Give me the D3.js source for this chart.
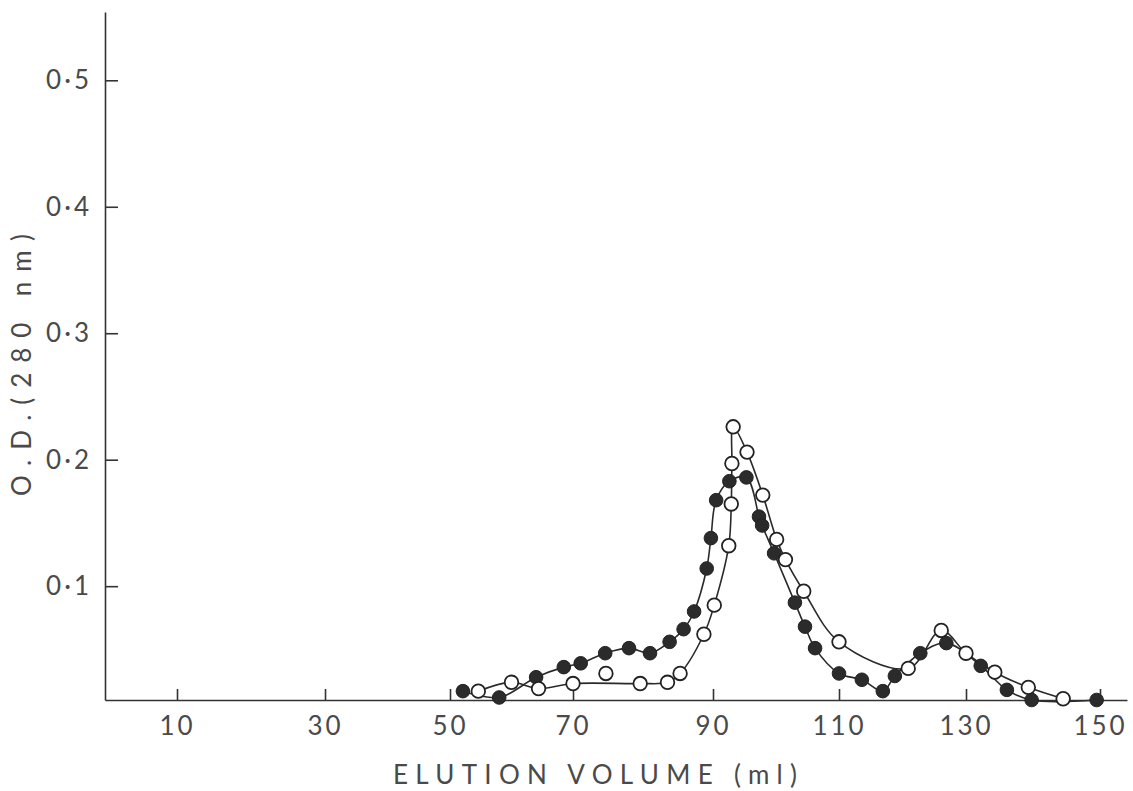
<!DOCTYPE html>
<html lang="en">
  <head>
    <meta charset="utf-8" />
    <title>Elution profile</title>
    <script src="https://cdn.jsdelivr.net/npm/d3@7"></script>
    <style type="text/css">
      body {
        margin: 0;
        background: #ffffff;
      }
      svg text {
        font-family: "Lato", "Open Sans", sans-serif;
        font-weight: 400;
        fill: #4a4a4a;
      }
      .axis path,
      .axis line {
        stroke: #333;
        stroke-width: 1.6px;
      }
      .curve {
        fill: none;
        stroke: #2a2a2a;
        stroke-width: 1.6px;
      }
    </style>
  </head>
  <body>
    <script type="text/javascript">
      var w = 1133;
      var h = 791;

      // filled circles
      var filledVolume = [52.1, 58.0, 64.0, 68.5, 71.1, 74.6, 78.0, 81.0, 83.8, 85.8, 87.3, 89.1, 89.7, 90.5, 92.6, 95.3, 97.3, 97.8, 99.7, 103.0, 104.6, 106.2, 110.0, 113.6, 116.9, 118.8, 122.8, 126.9, 132.2, 136.1, 139.8, 149.5];
      var filledOD = [0.017, 0.012, 0.028, 0.036, 0.039, 0.047, 0.051, 0.047, 0.056, 0.066, 0.080, 0.114, 0.138, 0.168, 0.183, 0.186, 0.155, 0.148, 0.126, 0.087, 0.068, 0.051, 0.031, 0.026, 0.017, 0.029, 0.047, 0.055, 0.037, 0.018, 0.010, 0.010];

      // open circles
      var hollowVolume = [54.6, 60.0, 64.4, 70.0, 79.6, 83.5, 85.3, 88.7, 90.2, 92.5, 92.9, 93.0, 93.2, 95.4, 97.9, 100.1, 101.5, 104.4, 110.0, 120.9, 126.1, 130.0, 134.3, 139.3, 144.5];
      var hollowOD = [0.017, 0.024, 0.019, 0.023, 0.023, 0.024, 0.031, 0.062, 0.085, 0.132, 0.165, 0.197, 0.226, 0.206, 0.172, 0.137, 0.121, 0.096, 0.056, 0.035, 0.065, 0.047, 0.032, 0.020, 0.011];

      // open circle lying off the drawn curve
      var strayVolume = [74.7];
      var strayOD = [0.031];

      var xTicks = [10, 30, 50, 70, 90, 110, 130, 150];
      var yTicks = [0.1, 0.2, 0.3, 0.4, 0.5];

      // the hand drawn axis has uneven spacing, so the scale follows its ticks
      var xScale = d3
        .scaleLinear()
        .domain([0.3, 10, 30, 50, 70, 90, 110, 130, 150, 154])
        .range([105, 177, 325, 450, 573, 713, 839, 966, 1100, 1127]);

      var yScale = d3.scaleLinear().domain([0.01, 0.554]).range([700, 12]);

      var svg = d3
        .select("body")
        .append("svg")
        .attr("width", w)
        .attr("height", h);

      var filledPts = filledVolume.map(function (v, i) {
        return [v, filledOD[i]];
      });
      var hollowPts = hollowVolume.map(function (v, i) {
        return [v, hollowOD[i]];
      });
      var strayPts = strayVolume.map(function (v, i) {
        return [v, strayOD[i]];
      });

      var line = d3
        .line()
        .x(function (d) {
          return xScale(d[0]);
        })
        .y(function (d) {
          return yScale(d[1]);
        })
        .curve(d3.curveCatmullRom.alpha(0.5));

      // axes
      svg
        .append("g")
        .attr("class", "axis")
        .attr("transform", "translate(0," + yScale(0.01) + ")")
        .call(
          d3
            .axisBottom(xScale)
            .tickValues(xTicks)
            .tickSizeInner(-11)
            .tickSizeOuter(0)
            .tickPadding(17)
            .tickFormat(d3.format("d"))
        )
        .selectAll("text")
        .style("font-size", "26px")
        .style("letter-spacing", "3px")
        .attr("fill", "#4a4a4a");

      svg
        .append("g")
        .attr("class", "axis")
        .attr("transform", "translate(" + xScale(0.3) + ",0)")
        .call(
          d3
            .axisLeft(yScale)
            .tickValues(yTicks)
            .tickSizeInner(-13)
            .tickSizeOuter(0)
            .tickPadding(13)
            .tickFormat(function (d) {
              return d3.format(".1f")(d).replace(".", "\u00b7");
            })
        )
        .selectAll("text")
        .style("font-size", "26px")
        .style("letter-spacing", "3px")
        .attr("fill", "#4a4a4a");

      svg.selectAll(".axis .domain").attr("stroke", "#333");

      // axis titles
      svg
        .append("text")
        .attr("x", 595)
        .attr("y", 784)
        .attr("text-anchor", "middle")
        .attr("textLength", 404)
        .attr("lengthAdjust", "spacing")
        .style("font-size", "26px")
        .text("ELUTION VOLUME (ml)");

      svg
        .append("text")
        .attr("transform", "translate(31,365) rotate(-90)")
        .attr("text-anchor", "middle")
        .attr("textLength", 262)
        .attr("lengthAdjust", "spacing")
        .style("font-size", "26px")
        .text("O.D.(280 nm)");

      // curves
      svg.append("path").datum(filledPts).attr("class", "curve").attr("d", line);
      svg.append("path").datum(hollowPts).attr("class", "curve").attr("d", line);

      // filled points
      svg
        .selectAll("circle.filled")
        .data(filledPts)
        .enter()
        .append("circle")
        .attr("class", "filled")
        .attr("cx", function (d) {
          return xScale(d[0]);
        })
        .attr("cy", function (d) {
          return yScale(d[1]);
        })
        .attr("r", 6.8)
        .attr("fill", "#2b2b2b")
        .attr("stroke", "#222")
        .attr("stroke-width", 1);

      // open points
      svg
        .selectAll("circle.hollow")
        .data(hollowPts.concat(strayPts))
        .enter()
        .append("circle")
        .attr("class", "hollow")
        .attr("cx", function (d) {
          return xScale(d[0]);
        })
        .attr("cy", function (d) {
          return yScale(d[1]);
        })
        .attr("r", 6.8)
        .attr("fill", "#fff")
        .attr("stroke", "#222")
        .attr("stroke-width", 1.8);
    </script>
  </body>
</html>
